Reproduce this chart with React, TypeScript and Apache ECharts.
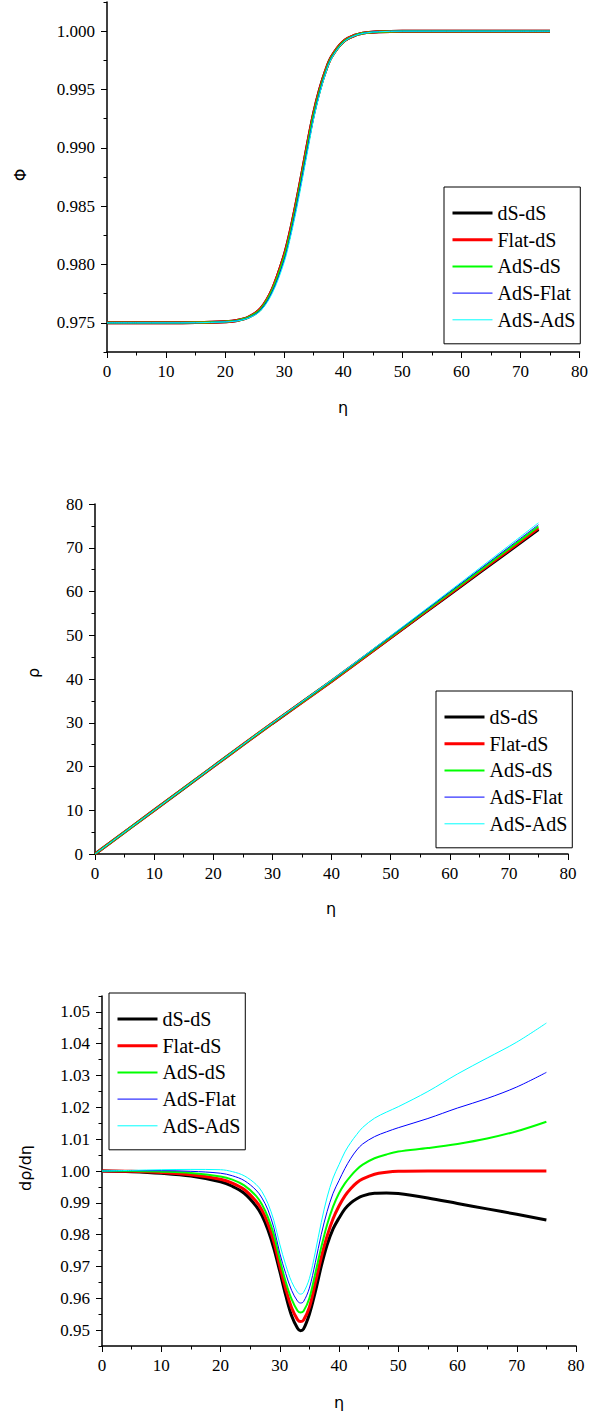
import React, { useEffect, useRef } from "react";
import * as echarts from "echarts";

// ---------- data ----------
const seriesNames = ["dS-dS", "Flat-dS", "AdS-dS", "AdS-Flat", "AdS-AdS"];
const seriesColors = ["#000000", "#ff0000", "#00ff00", "#0000ff", "#00ffff"];
const seriesWidths = [3, 3, 2, 1, 1];

// Panel 1: Phi vs eta
const phiEta = [0, 5, 10, 15, 20, 22, 24, 26, 28, 30, 31, 32, 33, 34, 35, 36, 37, 38, 40, 42, 44, 46, 50, 55, 60, 65, 70, 75];
const phiDSdS = [0.975, 0.975, 0.975, 0.97502, 0.9751, 0.9752, 0.9755, 0.9762, 0.9779, 0.9808, 0.9828, 0.9852, 0.9878, 0.9905, 0.993, 0.995, 0.9966, 0.9978, 0.9991, 0.99965, 0.99988, 0.99996, 1.0, 1.0, 1.0, 1.0, 1.0, 1.0];
const phiFlatdS = [0.975, 0.975, 0.975, 0.97502, 0.9751, 0.9752, 0.9755, 0.9762, 0.9779, 0.98075, 0.98275, 0.98515, 0.98775, 0.99045, 0.99296, 0.99497, 0.99658, 0.99779, 0.9991, 0.99965, 0.99988, 0.99996, 1.0, 1.0, 1.0, 1.0, 1.0, 1.0];
const phiAdSdS = [0.975, 0.975, 0.975, 0.97502, 0.9751, 0.97519, 0.97548, 0.97615, 0.97782, 0.9806, 0.9826, 0.985, 0.9876, 0.9903, 0.99285, 0.99488, 0.99652, 0.99775, 0.99908, 0.99964, 0.99987, 0.99996, 1.0, 1.0, 1.0, 1.0, 1.0, 1.0];
const phiAdSFlat = [0.975, 0.975, 0.975, 0.97501, 0.97509, 0.97518, 0.97545, 0.9761, 0.9777, 0.9804, 0.9824, 0.9848, 0.9874, 0.9901, 0.99268, 0.99476, 0.99644, 0.9977, 0.99905, 0.99963, 0.99987, 0.99996, 1.0, 1.0, 1.0, 1.0, 1.0, 1.0];
const phiAdSAdS = [0.975, 0.975, 0.975, 0.97501, 0.97508, 0.97516, 0.97542, 0.97602, 0.97755, 0.9802, 0.9822, 0.9845, 0.9871, 0.9898, 0.9925, 0.9946, 0.99635, 0.99764, 0.99902, 0.99962, 0.99986, 0.99995, 1.0, 1.0, 1.0, 1.0, 1.0, 1.0];

// Panel 2: rho vs eta
const rhoEta = [0, 10, 20, 25, 30, 40, 50, 60, 70, 75];
const rhoDSdS = [0, 9.997, 19.977, 24.95, 29.85, 39.5, 49.41, 59.33, 69.21, 74.14];
const rhoFlatdS = [0, 9.998, 19.98, 24.96, 29.875, 39.5, 49.48, 59.48, 69.48, 74.48];
const rhoAdSdS = [0, 9.999, 19.99, 24.98, 29.9, 39.56, 49.59, 59.66, 69.77, 74.84];
const rhoAdSFlat = [0, 10.0, 19.999, 25.0, 29.93, 39.63, 49.72, 59.89, 70.12, 75.26];
const rhoAdSAdS = [0, 10.003, 20.006, 25.01, 29.96, 39.74, 49.88, 60.13, 70.49, 75.7];

// Panel 3: drho/deta vs eta
const dEta = [0, 5, 10, 15, 20, 22, 24, 26, 27, 28, 29, 30, 31, 32, 33, 33.5, 34, 35, 36, 37, 38, 39, 40, 41, 42, 43, 44, 46, 48, 50, 55, 60, 65, 70, 75];
const dDSdS = [1.0, 0.9998, 0.9993, 0.9984, 0.9966, 0.9952, 0.993, 0.989, 0.986, 0.9815, 0.9757, 0.9685, 0.961, 0.9545, 0.9506, 0.9498, 0.9503, 0.955, 0.962, 0.97, 0.9768, 0.9818, 0.9852, 0.9881, 0.99, 0.9913, 0.9922, 0.993, 0.9931, 0.9929, 0.9915, 0.9898, 0.9881, 0.9864, 0.9846];
const dFlatdS = [1.0, 0.9999, 0.9995, 0.9988, 0.9974, 0.9962, 0.9942, 0.9905, 0.9877, 0.9835, 0.9778, 0.9702, 0.963, 0.957, 0.9533, 0.9527, 0.9531, 0.9572, 0.9648, 0.9728, 0.9796, 0.985, 0.989, 0.9922, 0.9945, 0.9963, 0.9975, 0.999, 0.9996, 0.9999, 1.0, 1.0, 1.0, 1.0, 1.0];
const dAdSdS = [1.0, 1.0, 0.9998, 0.9994, 0.9983, 0.9973, 0.9955, 0.9922, 0.9895, 0.9855, 0.98, 0.9722, 0.9652, 0.9597, 0.9561, 0.9555, 0.9559, 0.96, 0.9678, 0.976, 0.9832, 0.9888, 0.993, 0.9961, 0.9985, 1.0005, 1.002, 1.004, 1.0052, 1.0061, 1.0072, 1.0085, 1.0102, 1.0125, 1.0155];
const dAdSFlat = [1.0, 1.0001, 1.0001, 0.9999, 0.9993, 0.9985, 0.997, 0.994, 0.9915, 0.9878, 0.9822, 0.9742, 0.9678, 0.9625, 0.9591, 0.9585, 0.9589, 0.9632, 0.9712, 0.98, 0.9873, 0.993, 0.997, 1.0008, 1.004, 1.0066, 1.0085, 1.0108, 1.0123, 1.0136, 1.0165, 1.0198, 1.0228, 1.0264, 1.031];
const dAdSAdS = [1.0, 1.0002, 1.0004, 1.0005, 1.0004, 0.9998, 0.9985, 0.9958, 0.9935, 0.9898, 0.9845, 0.977, 0.9705, 0.9652, 0.9619, 0.9613, 0.9618, 0.9662, 0.9745, 0.9838, 0.9918, 0.9978, 1.002, 1.006, 1.009, 1.0115, 1.0137, 1.0166, 1.0185, 1.0202, 1.025, 1.0305, 1.0355, 1.0405, 1.0465];

// tick values
const phiMajor = [0.975, 0.98, 0.985, 0.99, 0.995, 1.0];
const phiMinor = [0.9725, 0.9775, 0.9825, 0.9875, 0.9925, 0.9975, 1.0025];
const dMajor = [0.95, 0.96, 0.97, 0.98, 0.99, 1.0, 1.01, 1.02, 1.03, 1.04, 1.05];
const dMinor = [0.945, 0.955, 0.965, 0.975, 0.985, 0.995, 1.005, 1.015, 1.025, 1.035, 1.045, 1.055];

const phiSets = [phiDSdS, phiFlatdS, phiAdSdS, phiAdSFlat, phiAdSAdS];
const rhoSets = [rhoDSdS, rhoFlatdS, rhoAdSdS, rhoAdSFlat, rhoAdSAdS];
const dSets = [dDSdS, dFlatdS, dAdSdS, dAdSFlat, dAdSAdS];

const LABEL_FONT = "Liberation Serif";
const LEGEND_FONT = "Liberation Serif";
const TITLE_FONT = "'DejaVu Sans', sans-serif";

export default function App() {
  const ref = useRef<HTMLDivElement>(null);

  useEffect(() => {
    if (!ref.current) return;
    const chart = echarts.init(ref.current, null, { renderer: "svg" });

    const grids = [
      { left: 107, top: 2, width: 473, height: 350 },
      { left: 95, top: 504, width: 473, height: 350 },
      { left: 102, top: 996, width: 474, height: 350 },
    ];

    const axisLine = { show: true, lineStyle: { color: "#000", width: 1.5 } };

    const makeLabel = (margin: number, digits: number, extra: any = {}) => ({
      show: true,
      color: "#000",
      fontFamily: LABEL_FONT,
      fontSize: 17,
      margin,
      formatter: (v: number) => v.toFixed(digits),
      ...extra,
    });

    const xAxes = grids.map((_, i) => ({
      type: "value",
      gridIndex: i,
      min: 0,
      max: 80,
      interval: 10,
      axisLine,
      axisTick: { show: true, length: 6, lineStyle: { color: "#000", width: 1 } },
      minorTick: { show: true, splitNumber: 2, length: 3.5, lineStyle: { color: "#000", width: 1 } },
      axisLabel: makeLabel(11, 0),
      splitLine: { show: false },
    }));

    const yAxes: any[] = [
      {
        type: "value", gridIndex: 0, position: "left", min: 0.9725, max: 1.0025,
        axisLine,
        axisTick: { show: true, length: 6, customValues: phiMajor, lineStyle: { color: "#000", width: 1 } },
        axisLabel: makeLabel(12, 3, { customValues: phiMajor }),
        splitLine: { show: false },
      },
      {
        type: "value", gridIndex: 0, position: "left", min: 0.9725, max: 1.0025, offset: 0,
        axisLine: { show: false },
        axisTick: { show: true, length: 3.5, customValues: phiMinor, lineStyle: { color: "#000", width: 1 } },
        axisLabel: { show: false },
        splitLine: { show: false },
      },
      {
        type: "value", gridIndex: 1, position: "left", min: 0, max: 80, interval: 10,
        axisLine,
        axisTick: { show: true, length: 6, lineStyle: { color: "#000", width: 1 } },
        minorTick: { show: true, splitNumber: 2, length: 3.5, lineStyle: { color: "#000", width: 1 } },
        axisLabel: makeLabel(12, 0),
        splitLine: { show: false },
      },
      {
        type: "value", gridIndex: 2, position: "left", min: 0.945, max: 1.055,
        axisLine,
        axisTick: { show: true, length: 6, customValues: dMajor, lineStyle: { color: "#000", width: 1 } },
        axisLabel: makeLabel(12, 2, { customValues: dMajor }),
        splitLine: { show: false },
      },
      {
        type: "value", gridIndex: 2, position: "left", min: 0.945, max: 1.055, offset: 0,
        axisLine: { show: false },
        axisTick: { show: true, length: 3.5, customValues: dMinor, lineStyle: { color: "#000", width: 1 } },
        axisLabel: { show: false },
        splitLine: { show: false },
      },
    ];

    const makeSeries = (panel: number, yIndex: number, xs: number[], sets: number[][]) =>
      sets.map((vals, k) => ({
        type: "line",
        name: seriesNames[k],
        xAxisIndex: panel,
        yAxisIndex: yIndex,
        data: xs.map((x, j) => [x, vals[j]]),
        showSymbol: false,
        symbol: "none",
        smooth: 0.35,
        lineStyle: { color: seriesColors[k], width: seriesWidths[k] },
        itemStyle: { color: seriesColors[k] },
        z: 2 + k,
      }));

    const series = [
      ...makeSeries(0, 0, phiEta, phiSets),
      ...makeSeries(1, 2, rhoEta, rhoSets),
      ...makeSeries(2, 3, dEta, dSets),
    ];

    const legendBase = {
      orient: "vertical",
      data: seriesNames.map((n, k) => ({
        name: n,
        itemStyle: { opacity: 0, color: "transparent", borderWidth: 0 },
        lineStyle: { color: seriesColors[k], width: seriesWidths[k] },
      })),
      itemWidth: 40,
      itemHeight: 14,
      itemGap: 6.7,
      borderColor: "#000",
      borderWidth: 1,
      borderRadius: 0,
      padding: [16, 5, 14, 7],
      backgroundColor: "#fff",
      selectedMode: false,
      itemStyle: { opacity: 0 },
      textStyle: { color: "#000", fontFamily: LEGEND_FONT, fontSize: 20, lineHeight: 20 },
    };
    const legends = [
      { ...legendBase, left: 444, top: 187, width: 135 },
      { ...legendBase, left: 436, top: 691, width: 133 },
      { ...legendBase, left: 109, top: 993, width: 135 },
    ];

    const titleText = (text: string, x: number, y: number, rotate: boolean) => ({
      type: "text",
      x,
      y,
      rotation: rotate ? Math.PI / 2 : 0,
      style: {
        text,
        fill: "#000",
        font: `16px ${TITLE_FONT}`,
        textAlign: "center",
        textVerticalAlign: "middle",
      },
    });

    chart.setOption({
      animation: false,
      backgroundColor: "#fff",
      textStyle: { fontFamily: LABEL_FONT, color: "#000" },
      grid: grids.map((g) => ({ ...g, containLabel: false })),
      xAxis: xAxes,
      yAxis: yAxes,
      legend: legends,
      series,
      graphic: [
        titleText("η", 343, 407, false),
        titleText("η", 331, 908, false),
        titleText("η", 339, 1402, false),
        titleText("Φ", 20, 175, true),
        titleText("ρ", 33, 673, true),
        titleText("dρ/dη", 25, 1168, true),
      ],
    });

    return () => chart.dispose();
  }, []);

  return (
    <div
      ref={ref}
      style={{ position: "absolute", left: 0, top: 0, width: 591, height: 1416, background: "#fff" }}
    />
  );
}
